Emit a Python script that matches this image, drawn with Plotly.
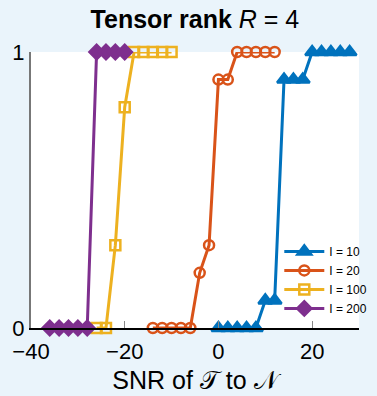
import plotly.graph_objects as go

# Data (SNR in dB, success ratio)
snr_I10 = [0, 2, 4, 6, 8, 10, 12, 14, 16, 18, 20, 22, 24, 26, 28]
val_I10 = [0, 0, 0, 0, 0, 0.1, 0.1, 0.9, 0.9, 0.9, 1, 1, 1, 1, 1]

snr_I20 = [-14, -12, -10, -8, -6, -4, -2, 0, 2, 4, 6, 8, 10, 12]
val_I20 = [0, 0, 0, 0, 0, 0.2, 0.3, 0.9, 0.9, 1, 1, 1, 1, 1]

snr_I100 = [-26, -24, -22, -20, -18, -16, -14, -12, -10]
val_I100 = [0, 0, 0.3, 0.8, 1, 1, 1, 1, 1]

snr_I200 = [-36, -34, -32, -30, -28, -26, -24, -22, -20]
val_I200 = [0, 0, 0, 0, 0, 1, 1, 1, 1]

names = ["I = 10", "I = 20", "I = 100", "I = 200"]
colors = ["#0072BD", "#D95319", "#EDB120", "#7E2F8E"]
symbols = ["triangle-up", "circle-open", "square-open", "diamond"]
sizes = [12, 10, 10, 11]

x_ticks = [-40, -20, 0, 20]
x_ticktext = ["\u221240", "\u221220", "0", "20"]

FONT = "Liberation Sans"
BG = "#EAF4FB"

fig = go.Figure()
series = [(snr_I10, val_I10), (snr_I20, val_I20), (snr_I100, val_I100), (snr_I200, val_I200)]
for (xs, ys), n, c, s, sz in zip(series, names, colors, symbols, sizes):
    fig.add_trace(go.Scatter(
        x=xs, y=ys, mode="lines+markers", name=n,
        line=dict(color=c, width=3),
        marker=dict(symbol=s, size=sz, color=c, line=dict(color=c, width=2.5)),
        cliponaxis=False,
    ))

fig.update_layout(
    width=377, height=396,
    paper_bgcolor=BG,
    plot_bgcolor="#FFFFFF",
    margin=dict(l=31, r=18, t=52, b=68, autoexpand=False),
    font=dict(family=FONT, color="#000000"),
    title=dict(text="<b>Tensor rank</b> <i>R</i> = 4", x=0.517, xanchor="center",
               y=0.952, yanchor="middle", font=dict(size=25, family=FONT)),
    showlegend=True,
    legend=dict(x=0.757, xanchor="left", y=0.33, yanchor="top",
                bgcolor="rgba(0,0,0,0)", borderwidth=0,
                font=dict(size=12, family=FONT), tracegroupgap=0, itemwidth=40),
)

fig.update_xaxes(
    range=[-40, 30], tickvals=x_ticks, ticktext=x_ticktext,
    ticks="inside", ticklen=7, tickcolor="#888888", tickwidth=1,
    showline=True, linecolor="#000000", linewidth=1.5,
    showgrid=False, zeroline=False, mirror=False, automargin=False,
    tickfont=dict(size=22, family=FONT), ticklabelstandoff=3,
    title=dict(text="SNR of \U0001D4AF to \U0001D4A9", font=dict(size=25, family=FONT), standoff=8),
)
fig.update_yaxes(
    range=[0, 1], tickvals=[0, 1], ticktext=["0", "1"],
    ticks="inside", ticklen=9, tickcolor="#888888", tickwidth=1.5,
    showline=True, linecolor="#777777", linewidth=2,
    showgrid=False, zeroline=False, mirror=False, automargin=False,
    tickfont=dict(size=22, family=FONT),
)

fig.write_html(
    "out.html",
    config={"displayModeBar": False},
    post_script="document.body.style.margin='0';document.body.style.background='" + BG + "';",
)
